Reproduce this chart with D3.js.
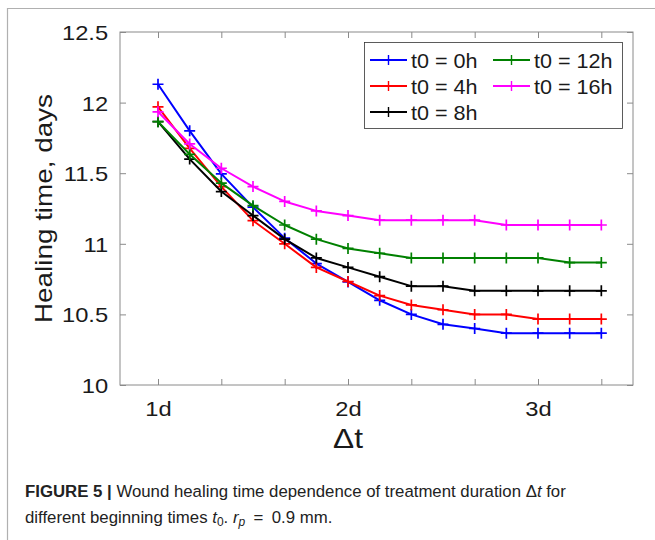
<!DOCTYPE html>
<html><head><meta charset="utf-8">
<script src="https://cdn.jsdelivr.net/npm/d3@7/dist/d3.min.js"></script>
<style>
html,body{margin:0;padding:0;background:#fff;}
svg{display:block;font-family:"Liberation Sans",Arial,Helvetica,sans-serif;}
</style></head>
<body>
<svg id="chart" width="655" height="540"></svg>
<script>
// ---- data ----
const deltaT = [1, 1.1667, 1.3333, 1.5, 1.6667, 1.8333, 2, 2.1667, 2.3333, 2.5, 2.6667, 2.8333, 3, 3.1667, 3.3333];
const seriesNames = ["t0 = 0h", "t0 = 4h", "t0 = 8h", "t0 = 12h", "t0 = 16h"];
const t0_0h  = [12.13, 11.80, 11.495, 11.26, 11.04, 10.86, 10.73, 10.60, 10.50, 10.43, 10.40, 10.367, 10.367, 10.367, 10.367];
const t0_4h  = [11.97, 11.676, 11.405, 11.164, 11.00, 10.833, 10.733, 10.633, 10.567, 10.533, 10.50, 10.50, 10.467, 10.467, 10.467];
const t0_8h  = [11.865, 11.60, 11.37, 11.20, 11.033, 10.90, 10.833, 10.767, 10.70, 10.70, 10.667, 10.667, 10.667, 10.667, 10.667];
const t0_12h = [11.865, 11.634, 11.43, 11.27, 11.133, 11.033, 10.967, 10.933, 10.90, 10.90, 10.90, 10.90, 10.90, 10.867, 10.867];
const t0_16h = [11.935, 11.707, 11.535, 11.405, 11.30, 11.233, 11.20, 11.167, 11.167, 11.167, 11.167, 11.133, 11.133, 11.133, 11.133];
const seriesValues = [t0_0h, t0_4h, t0_8h, t0_12h, t0_16h];
const seriesColors = ["#0000ff", "#ff0000", "#000000", "#008000", "#ff00ff"];
const xTicks = [1, 1.3333, 1.6667, 2, 2.3333, 2.6667, 3, 3.3333];
const xTickLabels = ["1d", "", "", "2d", "", "", "3d", ""];
const yTicks = [10, 10.5, 11, 11.5, 12, 12.5];
const yTickLabels = ["10", "10.5", "11", "11.5", "12", "12.5"];
const xTitle = "\u0394t";
const yTitle = "Healing time, days";

// ---- layout ----
const SX = 1.13; // horizontal glyph stretch
const L = 120, R = 633, T = 32, B = 385;
const svg = d3.select("#chart");
const x = d3.scaleLinear().domain([0.8, 3.5]).range([L, R]);
const y = d3.scaleLinear().domain([10, 12.5]).range([B, T]);
const axisCol = "#8a8a8a", textCol = "#1a1a1a";

// outer frame (left and top rules)
svg.append("path").attr("d", "M7.5,540 V8.5 H655").attr("stroke", "#b0b0b0")
  .attr("stroke-width", 1.2).attr("fill", "none");

// plot box
svg.append("rect").attr("x", L).attr("y", T).attr("width", R - L).attr("height", B - T)
  .attr("fill", "none").attr("stroke", axisCol).attr("stroke-width", 1);

function styleAxis(g) {
  g.select(".domain").remove();
  g.selectAll(".tick line").attr("stroke", axisCol).attr("stroke-width", 1);
}
const fmtX = (d) => xTickLabels[xTicks.indexOf(d)];
const fmtY = (d) => yTickLabels[yTicks.indexOf(d)];

// bottom axis (ticks inward)
const gxb = svg.append("g").attr("transform", `translate(0,${B})`)
  .call(d3.axisBottom(x).tickValues(xTicks).tickFormat(fmtX).tickSizeInner(-6).tickSizeOuter(0).tickPadding(13));
styleAxis(gxb);
gxb.selectAll(".tick text").attr("font-size", 21).attr("fill", textCol)
  .attr("transform", `scale(${SX},1)`).attr("dy", "0.85em").attr("font-family", "Liberation Sans, Arial, sans-serif");
// top axis ticks
const gxt = svg.append("g").attr("transform", `translate(0,${T})`)
  .call(d3.axisTop(x).tickValues(xTicks).tickFormat("").tickSizeInner(-6).tickSizeOuter(0));
styleAxis(gxt);
// left axis
const gyl = svg.append("g").attr("transform", `translate(${L},0)`)
  .call(d3.axisLeft(y).tickValues(yTicks).tickFormat(fmtY).tickSizeInner(-6).tickSizeOuter(0).tickPadding(10));
styleAxis(gyl);
gyl.selectAll(".tick text").attr("font-size", 21).attr("fill", textCol)
  .attr("transform", `scale(${SX},1)`).attr("x", -10.5).attr("dy", "0.36em").attr("font-family", "Liberation Sans, Arial, sans-serif");
// right axis ticks
const gyr = svg.append("g").attr("transform", `translate(${R},0)`)
  .call(d3.axisRight(y).tickValues(yTicks).tickFormat("").tickSizeInner(-6).tickSizeOuter(0));
styleAxis(gyr);

// axis titles
svg.append("text").attr("transform", `translate(${x(2)},${448}) scale(${SX},1)`)
  .attr("text-anchor", "middle").attr("font-size", 28).attr("fill", textCol).text(xTitle);
svg.append("text").attr("transform", `translate(${52},${y(11.25)}) rotate(-90) scale(1.16,1)`)
  .attr("text-anchor", "middle").attr("font-size", 24).attr("fill", textCol).text(yTitle);

// series
const line = d3.line().x((d, i) => x(deltaT[i])).y(d => y(d));
const plot = svg.append("g");
seriesValues.forEach((vals, si) => {
  const g = plot.append("g");
  g.append("path").datum(vals).attr("d", line).attr("fill", "none")
    .attr("stroke", seriesColors[si]).attr("stroke-width", 2).attr("stroke-linejoin", "round");
  g.selectAll("path.mk").data(vals).join("path").attr("class", "mk")
    .attr("d", (d, i) => {
      const cx = x(deltaT[i]), cy = y(d), h = 5.5;
      return `M${cx - h},${cy}H${cx + h}M${cx},${cy - h}V${cy + h}`;
    })
    .attr("stroke", seriesColors[si]).attr("stroke-width", 1.7).attr("fill", "none");
});

// legend
const lg = svg.append("g");
lg.append("rect").attr("x", 364.5).attr("y", 42.5).attr("width", 258).attr("height", 86)
  .attr("fill", "#fff").attr("stroke", "#333").attr("stroke-width", 0.8);
const legPos = [[370, 60], [370, 86], [370, 112], [493, 60], [493, 86]];
seriesNames.forEach((name, si) => {
  const [lx, ly] = legPos[si];
  lg.append("line").attr("x1", lx).attr("x2", lx + 37).attr("y1", ly).attr("y2", ly)
    .attr("stroke", seriesColors[si]).attr("stroke-width", 2);
  lg.append("path").attr("d", `M${lx + 18.5},${ly - 5}V${ly + 5}`).attr("stroke", seriesColors[si]).attr("stroke-width", 1.4);
  lg.append("text").attr("transform", `translate(${lx + 41},${ly + 7.5}) scale(1.08,1)`)
    .attr("font-size", 20).attr("fill", textCol).text(name);
});

// caption
const cap = svg.append("g").attr("font-size", 16.8).attr("fill", "#222");
const c1 = cap.append("text").attr("x", 25).attr("y", 497);
c1.append("tspan").attr("font-weight", "bold").text("FIGURE 5 | ");
c1.append("tspan").text("Wound healing time dependence of treatment duration \u0394");
c1.append("tspan").attr("font-style", "italic").text("t");
c1.append("tspan").text(" for");
const c2 = cap.append("text").attr("x", 25).attr("y", 523);
c2.append("tspan").text("different beginning times ");
c2.append("tspan").attr("font-style", "italic").text("t");
c2.append("tspan").attr("font-size", 12).attr("dy", 3).text("0");
c2.append("tspan").attr("dy", -3).text(". ");
c2.append("tspan").attr("font-style", "italic").text("r");
c2.append("tspan").attr("font-size", 12).attr("font-style", "italic").attr("dy", 3).text("p");
c2.append("tspan").attr("dy", -3).text("\u2002=\u20020.9 mm.");
</script>
</body></html>
